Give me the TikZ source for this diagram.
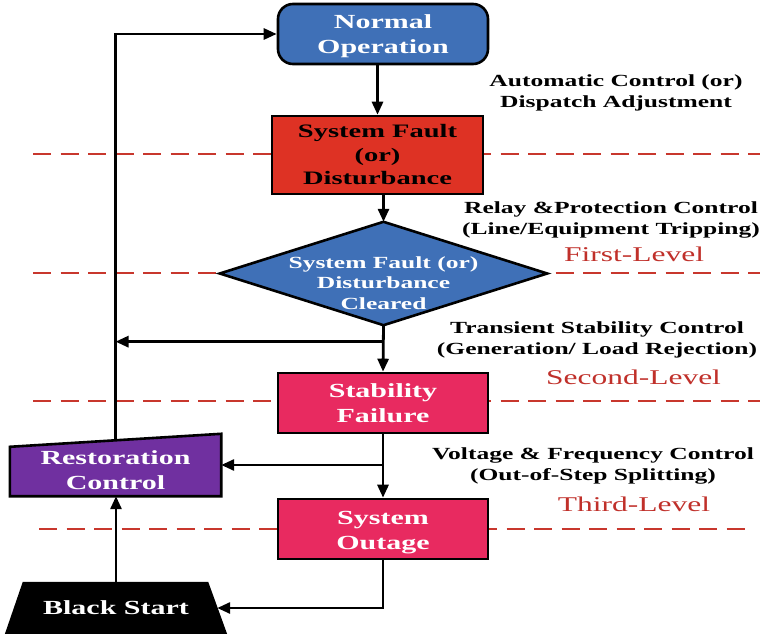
\documentclass[tikz,border=0pt]{standalone}
\usepackage{fontspec}
\setmainfont{Liberation Serif}[FakeStretch=1.5]
\usetikzlibrary{arrows.meta,calc}
\definecolor{opblue}{HTML}{3F70B7}
\definecolor{fltred}{HTML}{DE3224}
\definecolor{alertpink}{HTML}{E82A60}
\definecolor{restpurple}{HTML}{7030A0}
\definecolor{levelred}{HTML}{C8372D}
\definecolor{leveltext}{HTML}{C0302A}
\pgfdeclarelayer{guides}
\pgfdeclarelayer{shapes}
\pgfsetlayers{guides,shapes,main}
% centred lines of text, set #1 lower than the box that holds them
\newcommand{\stackdown}[2]{\raisebox{-#1}[\height][\depth]{\begin{tabular}{@{}c@{}}#2\end{tabular}}}
\begin{document}
\begin{tikzpicture}[x=1pt,y=-1pt,
  box/.style={draw=black,line width=2.6pt,minimum width=210pt,minimum height=60pt,
    align=center,inner sep=0pt,text=white,font=\bfseries\fontsize{20}{25}\selectfont},
  bare/.style={inner sep=0pt,align=center,text=white,font=\bfseries\fontsize{20}{25}\selectfont},
  outline/.style={draw=black,line width=2.6pt,line join=miter},
  arr/.style={line width=2.8pt,-{Triangle[length=13pt,width=11pt]}},
  level/.style={draw=levelred,line width=2pt,dash pattern=on 18pt off 9.5pt},
  note/.style={align=center,inner sep=0pt,font=\bfseries\fontsize{17}{21}\selectfont},
  tier/.style={inner sep=0pt,text=leveltext,font=\fontsize{21}{25}\selectfont}]

\useasboundingbox (0,0) rectangle (760,634);

% control levels
\begin{pgfonlayer}{guides}
  \draw[level] (33,154) -- (760,154);
  \draw[level] (33,273) -- (760,273);
  \draw[level] (33,401) -- (760,401);
  \draw[level] (39,529) -- (752,529);
\end{pgfonlayer}

% process blocks
\node[box,fill=opblue,rounded corners=15pt] (norm) at (383,34) {\stackdown{2pt}{Normal\\Operation}};
\node[box,fill=fltred,text=black,minimum width=211pt,minimum height=78pt,
  font=\bfseries\fontsize{19}{23.5}\selectfont] (fault) at (377.5,155) {System Fault\\(or)\\Disturbance};
\node[bare,minimum width=327pt,minimum height=103pt,
  font=\bfseries\fontsize{17}{20.5}\selectfont] (dia) at (383.5,273.5)
  {\stackdown{11pt}{System Fault (or)\\Disturbance\\Cleared}};
\node[box,fill=alertpink] (stab) at (383,403) {Stability\\Failure};
\node[box,fill=alertpink] (out) at (383,529) {\stackdown{3pt}{System\\Outage}};
\node[bare,minimum width=211pt,minimum height=62pt] (rest) at (115.5,465)
  {\stackdown{7pt}{Restoration\\Control}};
\node[bare,minimum width=202pt,minimum height=52pt] (bs) at (116,608) {Black Start};

\begin{pgfonlayer}{shapes}
  \filldraw[outline,fill=opblue] (dia.west) -- (dia.north) -- (dia.east) -- (dia.south) -- cycle;
  \filldraw[outline,fill=restpurple] (rest.south west) -- (rest.south east) -- (rest.north east)
    -- ([yshift=-13pt]rest.north west) -- cycle;
  \fill[black] ($(bs.north west)+(8,0)$) -- ($(bs.north east)+(-9,0)$)
    -- ($(bs.south east)+(10,0)$) -- ($(bs.south west)+(-10,0)$) -- cycle;
\end{pgfonlayer}

% control actions
\node[note] (auto) at (616,93) {Automatic Control (or)\\Dispatch Adjustment};
\node[note] (relay) at (611,220) {Relay \&Protection Control\\(Line/Equipment Tripping)};
\node[note] (trans) at (597,340) {Transient Stability Control\\(Generation/ Load Rejection)};
\node[note] (volt) at (593,466) {Voltage \& Frequency Control\\(Out-of-Step Splitting)};

\node[tier] (first) at (634,254) {First-Level};
\node[tier] (second) at (633.5,377) {Second-Level};
\node[tier] (third) at (634,504.5) {Third-Level};

% flow
\draw[arr] (fault.north |- norm.south) -- (fault.north);
\draw[arr] (dia.north |- fault.south) -- (dia.north);
\draw[arr] (dia.south) -- (stab.north);
\coordinate (split) at ($(dia.south)!0.354!(stab.north)$);
\draw[arr] (split) -- (split -| rest.north);
\draw[arr] (stab.south) -- (out.north);
\draw[arr] (stab.south |- rest.east) -- (rest.east);
\draw[arr] (out.south) |- (bs.east);
\draw[arr] (bs.north) -- (bs.north |- rest.south);
\draw[arr] ([yshift=-6pt]rest.north) |- (norm.west);
\end{tikzpicture}
\end{document}
